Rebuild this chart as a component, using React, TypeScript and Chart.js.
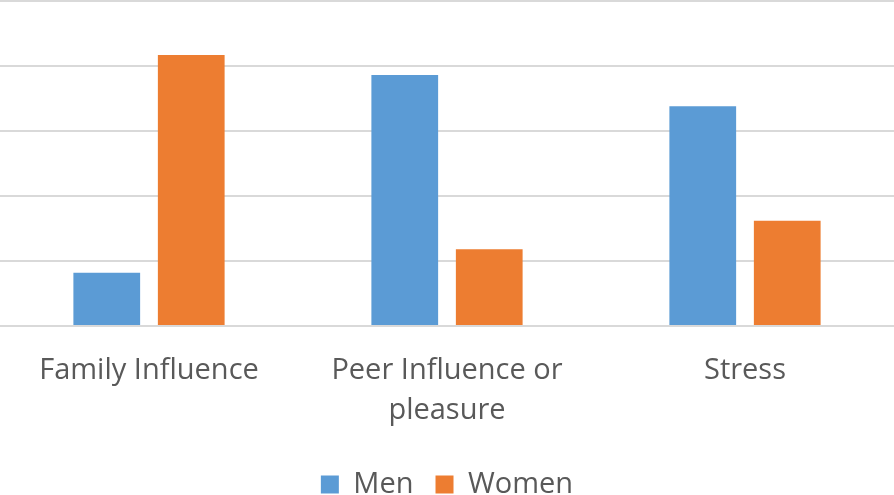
import React, { useEffect, useRef } from "react";
import { Chart, registerables } from "chart.js";

Chart.register(...registerables);

const categories: (string | string[])[] = ["Family Influence", ["Peer Influence or", "pleasure"], "Stress"];
const menValues = [0.82, 3.86, 3.38];
const womenValues = [4.17, 1.18, 1.62];
const seriesNames = ["Men", "Women"];

const FONT = "'Open Sans', sans-serif";

export default function App() {
  const ref = useRef<HTMLCanvasElement | null>(null);
  useEffect(() => {
    document.body.style.margin = "0";
    const ctx = ref.current!;
    const chart = new Chart(ctx, {
      type: "bar",
      data: {
        labels: categories,
        datasets: [
          {
            label: seriesNames[0],
            data: menValues,
            backgroundColor: "#5B9BD5",
            categoryPercentage: 0.567,
            barPercentage: 0.79,
          },
          {
            label: seriesNames[1],
            data: womenValues,
            backgroundColor: "#ED7D31",
            categoryPercentage: 0.567,
            barPercentage: 0.79,
          },
        ],
      },
      options: {
        animation: false,
        responsive: false,
        maintainAspectRatio: false,
        layout: { padding: { top: 1, left: 0, right: 0, bottom: 0 } },
        plugins: {
          tooltip: { enabled: false },
          legend: {
            position: "bottom",
            labels: {
              boxWidth: 18,
              boxHeight: 18,
              padding: 22,
              color: "#595959",
              font: { family: FONT, size: 29 },
            },
          },
        },
        scales: {
          x: {
            grid: { display: false },
            border: { display: false },
            ticks: {
              color: "#595959",
              padding: 17,
              font: { family: FONT, size: 29, lineHeight: 1.38 },
              maxRotation: 0,
              autoSkip: false,
            },
          },
          y: {
            min: 0,
            max: 5,
            ticks: { display: false, stepSize: 1 },
            border: { display: false },
            grid: { color: "#d9d9d9", lineWidth: 2, drawTicks: false },
          },
        },
      },
    });
    return () => chart.destroy();
  }, []);
  return (
    <div style={{ position: "absolute", left: 0, top: 0, width: 894, height: 495, overflow: "hidden" }}>
      <canvas ref={ref} width={894} height={509} style={{ width: 894, height: 509, display: "block" }} />
    </div>
  );
}
